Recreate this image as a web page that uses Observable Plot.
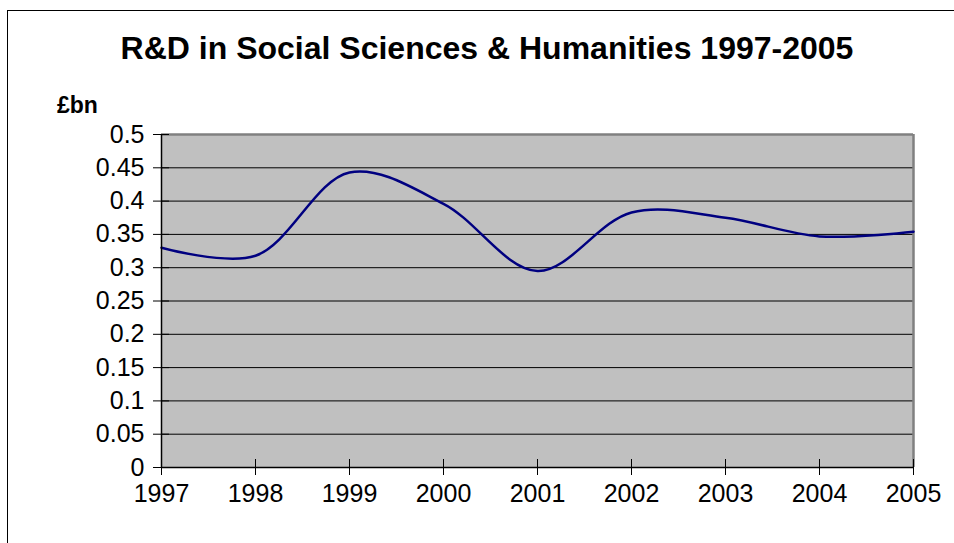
<!DOCTYPE html>
<html>
<head>
<meta charset="utf-8">
<script src="https://cdn.jsdelivr.net/npm/d3@7"></script>
<script src="https://cdn.jsdelivr.net/npm/@observablehq/plot@0.6"></script>
<style>
  html, body { margin: 0; padding: 0; background: #fff; }
  #wrap { position: relative; width: 954px; height: 543px; overflow: hidden; font-family: "Liberation Sans", Arial, sans-serif; }
  #border { position: absolute; left: 7px; top: 10px; width: 960px; height: 600px; border: 1.5px solid #000; box-sizing: border-box; }
  #title { position: absolute; left: 0; width: 974px; top: 30px; text-align: center; font-weight: bold; font-size: 32px; color: #000; white-space: nowrap; }
  #unit { position: absolute; left: 57px; top: 92px; font-weight: bold; font-size: 23px; color: #000; }
  #chart { position: absolute; left: 0; top: 0; }
</style>
</head>
<body>
<div id="wrap">
  <div id="border"></div>
  <div id="chart"></div>
  <div id="title">R&amp;D in Social Sciences &amp; Humanities 1997-2005</div>
  <div id="unit">£bn</div>
</div>
<script>
const years = [1997, 1998, 1999, 2000, 2001, 2002, 2003, 2004, 2005];
const values = [0.330, 0.318, 0.443, 0.396, 0.295, 0.383, 0.375, 0.347, 0.354];
const yTicks = [0, 0.05, 0.1, 0.15, 0.2, 0.25, 0.3, 0.35, 0.4, 0.45, 0.5];
const gridTicks = [0.05, 0.1, 0.15, 0.2, 0.25, 0.3, 0.35, 0.4, 0.45];

const data = years.map((y, i) => ({year: y, value: values[i]}));

const mL = 161, mR = 41, mT = 134, mB = 76;
const W = 954, H = 543;
const fw = W - mL - mR, fh = H - mT - mB;

const chart = Plot.plot({
  width: W,
  height: H,
  marginLeft: mL,
  marginRight: mR,
  marginTop: mT,
  marginBottom: mB,
  style: {fontFamily: "'Liberation Sans', Arial, sans-serif", fontSize: "25px", color: "#000", background: "transparent", overflow: "visible"},
  x: {domain: [1997, 2005], ticks: years, tickFormat: d => String(d), label: null},
  y: {domain: [0, 0.5], ticks: yTicks, tickFormat: d => String(d), label: null},
  marks: [
    Plot.frame({fill: "#c0c0c0", stroke: "none"}),
    Plot.ruleY(gridTicks, {stroke: "#000", strokeWidth: 1}),
    Plot.ruleY([0.5], {stroke: "#808080", strokeWidth: 2.5}),
    Plot.ruleX([2005], {stroke: "#808080", strokeWidth: 2.5}),
    Plot.ruleX(years, {insetTop: fh - 8, stroke: "#000", strokeWidth: 1}),
    Plot.ruleY(yTicks, {insetRight: fw - 8, stroke: "#000", strokeWidth: 1}),
    Plot.line(data, {x: "year", y: "value", stroke: "#000080", strokeWidth: 2.5, curve: "catmull-rom"}),
    Plot.ruleX([1997], {stroke: "#000", strokeWidth: 1.5}),
    Plot.ruleY([0], {stroke: "#000", strokeWidth: 1.5}),
    Plot.axisY({ticks: yTicks, tickSize: 8, tickPadding: 9, tickFormat: d => String(d), stroke: "#000", label: null, fontSize: 25}),
    Plot.axisX({ticks: years, tickSize: 8, tickPadding: 9, tickFormat: d => String(d), stroke: "#000", label: null, fontSize: 25})
  ]
});
document.getElementById("chart").appendChild(chart);
</script>
</body>
</html>
